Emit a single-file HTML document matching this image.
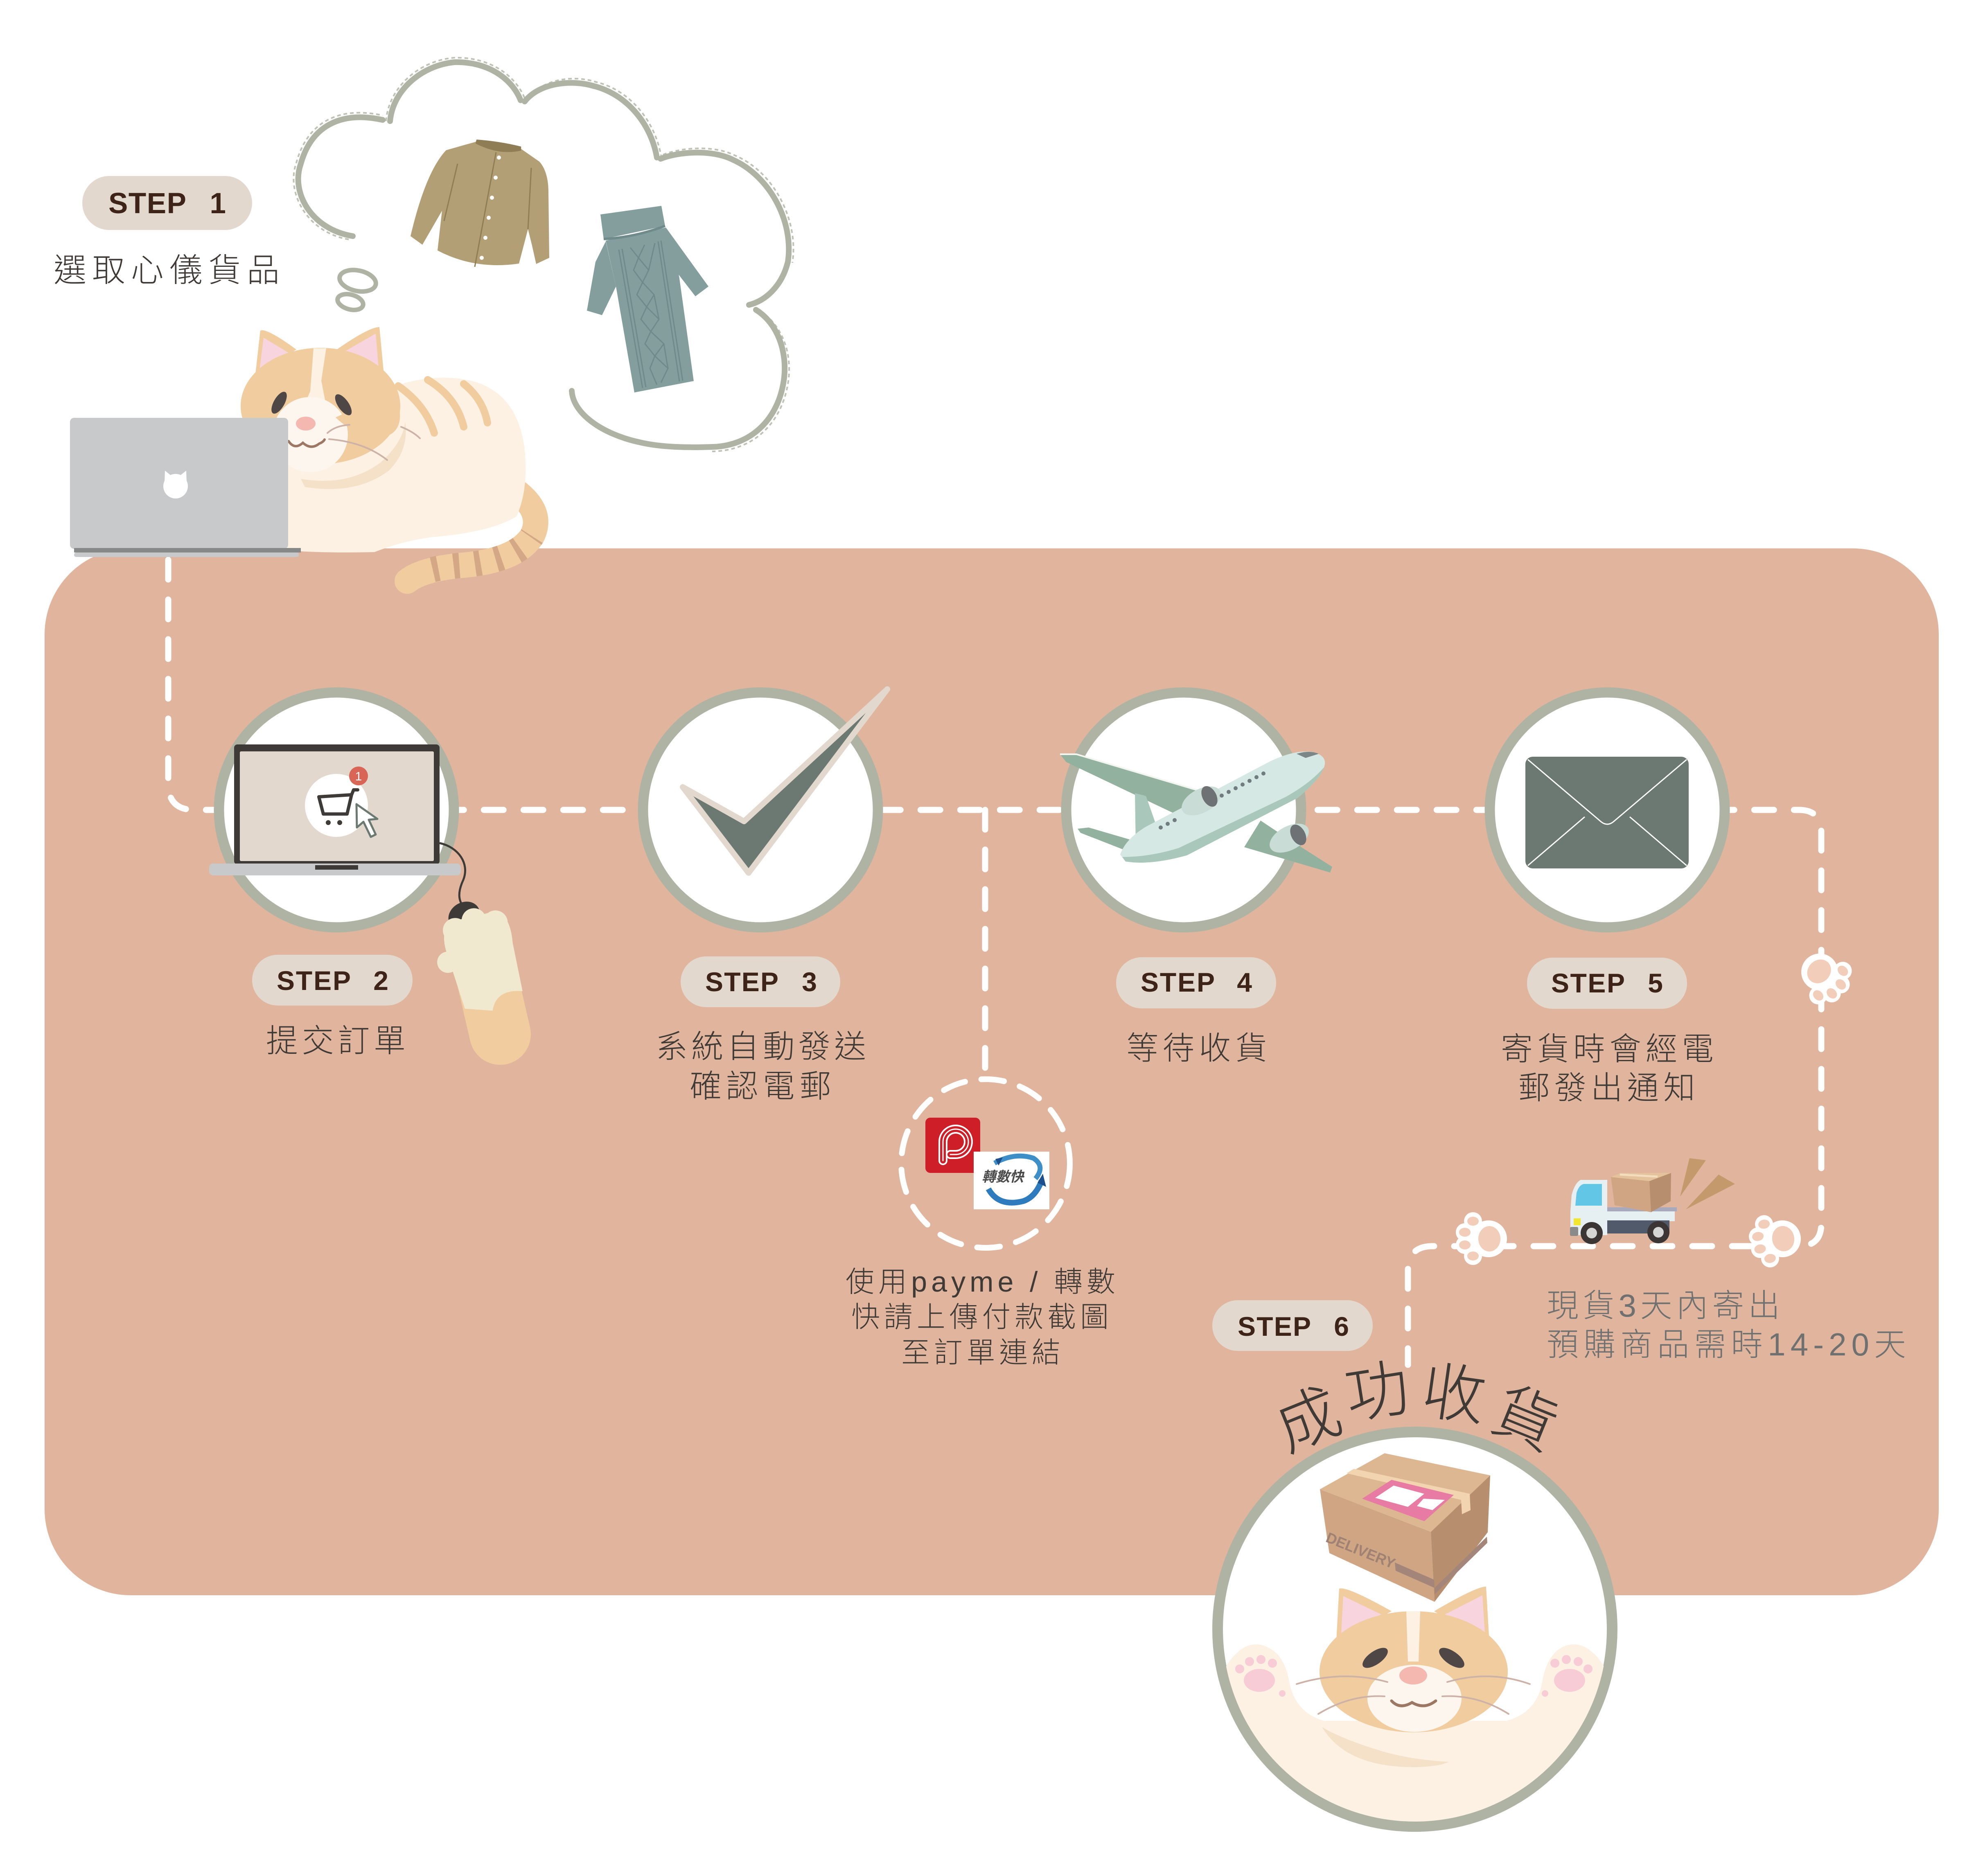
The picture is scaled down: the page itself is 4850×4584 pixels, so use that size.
<!DOCTYPE html>
<html><head><meta charset="utf-8"><style>
html,body{margin:0;padding:0;background:#fff}
svg{display:block}
.cj{font-family:"Liberation Sans","Noto Sans CJK TC","Noto Sans CJK SC",sans-serif;font-weight:300;fill:#3F3A36}
.st{font-family:"Liberation Sans",sans-serif;font-weight:bold;fill:#3E2418}
</style></head><body>
<svg width="4850" height="4584" viewBox="0 0 4850 4584" xmlns="http://www.w3.org/2000/svg">
<defs>
<g id="paw">
  <circle cx="0" cy="0" r="45" fill="#fff"/>
  <circle cx="-42" cy="-38" r="22" fill="#fff"/>
  <circle cx="-15" cy="-58" r="22" fill="#fff"/>
  <circle cx="16" cy="-58" r="22" fill="#fff"/>
  <circle cx="43" cy="-38" r="22" fill="#fff"/>
  <ellipse cx="0" cy="2" rx="31" ry="27" fill="#F2CDB9"/>
  <ellipse cx="-42" cy="-38" rx="11" ry="14" fill="#F2CDB9"/>
  <ellipse cx="-15" cy="-58" rx="11" ry="14" fill="#F2CDB9"/>
  <ellipse cx="16" cy="-58" rx="11" ry="14" fill="#F2CDB9"/>
  <ellipse cx="43" cy="-38" rx="11" ry="14" fill="#F2CDB9"/>
</g>
<clipPath id="bigc"><circle cx="3457" cy="3981" r="470"/></clipPath>
</defs>

<!-- main panel -->
<rect x="109" y="1340" width="4628" height="2558" rx="210" fill="#E1B59D"/>

<!-- thought bubble -->
<g fill="none" stroke="#AFB3A3" stroke-width="14" stroke-linecap="round">
<path d="M862 577 C760 560 710 470 735 400 C760 310 830 270 935 293"/>
<path d="M953 296 C960 220 1030 160 1110 152 C1190 150 1250 190 1272 245"/>
<path d="M1282 248 C1320 200 1400 195 1450 210 C1530 230 1590 300 1605 385"/>
<path d="M1614 388 C1660 370 1740 365 1790 390 C1880 430 1940 540 1925 640 C1910 700 1870 735 1830 745"/>
<path d="M1847 757 C1900 790 1925 860 1915 930 C1900 1030 1830 1090 1740 1092 C1660 1095 1600 1090 1560 1080 C1470 1060 1400 1010 1397 955"/>
<ellipse cx="874" cy="686" rx="45" ry="25" transform="rotate(12 874 686)" stroke-width="11"/>
<ellipse cx="856" cy="738" rx="32" ry="18" transform="rotate(15 856 738)" stroke-width="11"/>
</g>
<g fill="none" stroke="#AFB3A3" stroke-width="4" stroke-dasharray="9 7" opacity="0.8">
<path d="M852 585 C750 568 698 470 724 398 C750 300 826 258 935 282"/>
<path d="M943 296 C950 212 1025 148 1110 141 C1195 139 1258 182 1282 240"/>
<path d="M1290 240 C1330 190 1405 184 1455 200 C1540 220 1600 296 1615 380"/>
<path d="M1620 378 C1665 360 1745 354 1796 380 C1892 420 1952 540 1936 642"/>
<path d="M1858 760 C1910 795 1936 860 1926 932 C1910 1040 1835 1102 1740 1103"/>
</g>

<!-- cardigan -->
<path d="M1090 367 L1164 346 L1272 363 L1318 395 Q1340 420 1340 470 L1342 630 L1310 645 L1300 600 L1290 560 L1268 644 Q1160 660 1069 612 L1080 515 L1032 598 L1003 577 Q1040 420 1090 367 Z" fill="#B39F75"/>
<path d="M1164 346 Q1220 375 1272 363 Q1220 350 1164 346 Z" fill="#8F7D56" stroke="#8F7D56" stroke-width="10"/>
<path d="M1212 372 L1160 652" stroke="#8F7D56" stroke-width="3"/>
<path d="M1118 400 L1085 540" stroke="#8F7D56" stroke-width="3"/>
<path d="M1298 410 L1290 560" stroke="#8F7D56" stroke-width="3"/>
<g fill="#fff"><circle cx="1219" cy="385" r="5"/><circle cx="1211" cy="434" r="5"/><circle cx="1202" cy="483" r="5"/><circle cx="1194" cy="532" r="5"/><circle cx="1186" cy="581" r="5"/><circle cx="1177" cy="630" r="5"/></g>

<!-- sweater dress -->
<path d="M1480 588 L1627 556 L1645 600 L1660 680 L1695 931 L1550 959 L1505 700 Z" fill="#849D9D"/>
<path d="M1480 590 L1505 700 L1471 770 L1434 759 L1455 640 Z" fill="#849D9D"/>
<path d="M1627 556 L1731 700 L1699 724 L1645 654 Z" fill="#849D9D"/>
<path d="M1467 524 L1616 503 L1625 552 L1475 584 Z" fill="#849D9D"/>
<path d="M1475 584 Q1550 580 1625 552" stroke="#6F8A8A" stroke-width="6" fill="none"/>
<g stroke="#6F8A8A" stroke-width="3" fill="none">
<path d="M1512 610 L1570 948"/><path d="M1520 608 L1578 946"/>
<path d="M1615 588 L1668 930"/><path d="M1608 590 L1660 932"/>
<path d="M1540 605 L1560 630 L1548 660 L1570 690 L1556 720 L1580 750 L1566 780 L1590 810 L1576 840 L1600 870 L1588 900 L1605 940"/>
<path d="M1575 598 L1560 630 L1585 660 L1570 690 L1598 720 L1580 750 L1610 780 L1590 810 L1622 840 L1600 870 L1632 900 L1615 935"/>
<path d="M1600 594 L1585 660 M1598 720 L1610 780 M1622 840 L1632 900"/>
</g>

<!-- dashed path -->
<g fill="none" stroke="#fff" stroke-width="15" stroke-linecap="round" stroke-dasharray="48 49">
<path d="M411 1368 V1915 Q411 1979 475 1979 H4395 Q4450 1979 4450 2034 V2990 Q4450 3045 4395 3045 H3500 Q3440 3045 3440 3105 V3335"/>
<path d="M2407 1979 V2613"/>
</g>
<circle cx="2408" cy="2843" r="206" fill="none" stroke="#fff" stroke-width="14" stroke-linecap="round" stroke-dasharray="56 40"/>

<!-- top-left cat -->
<path d="M1230 1180 Q1335 1240 1300 1310 Q1260 1372 1120 1382 Q1030 1392 995 1420" fill="none" stroke="#F0CC9F" stroke-width="62" stroke-linecap="round"/>
<path d="M700 1100 L700 1345 Q800 1352 915 1349 Q990 1320 1060 1312 Q1200 1300 1262 1262 Q1290 1200 1283 1110 Q1270 960 1150 930 Q1060 910 960 945 L800 1000 Z" fill="#FCF1E3"/>
<path d="M1300 1310 Q1260 1372 1120 1382 Q1060 1388 1030 1400" fill="none" stroke="#D4A886" stroke-width="62" stroke-dasharray="14 38" stroke-dashoffset="10"/>
<g stroke="#F0CC9F" stroke-width="18" stroke-linecap="round" fill="none">
<path d="M973 943 Q1040 990 1061 1058"/><path d="M1045 928 Q1115 970 1133 1043"/><path d="M1133 938 Q1180 975 1191 1033"/>
</g>
<path d="M735 1170 Q850 1190 930 1130 Q985 1080 990 1030 Q1000 1100 950 1150 Q870 1210 745 1190 Z" fill="#F5E1C8"/>
<path d="M624 915 L636 808 Q650 800 724 854 Z" fill="#F0CC9F"/>
<path d="M634 905 L644 825 L705 862 Z" fill="#F7D4DE"/>
<path d="M823 854 Q900 800 927 799 L938 915 Z" fill="#F0CC9F"/>
<path d="M840 860 L918 815 L925 900 Z" fill="#F7D4DE"/>
<ellipse cx="783" cy="992" rx="195" ry="142" fill="#F0CC9F"/>
<path d="M766 851 L797 851 L785 930 L800 1007 L755 1033 L732 1017 L758 956 Z" fill="#FCF1E3"/>
<circle cx="758" cy="1062" r="92" fill="#FDF6EE"/>
<path d="M976 1000 Q985 1060 930 1070 Q860 1060 820 1020 Q860 1000 920 990 Z" fill="#F0CC9F"/>
<ellipse cx="682" cy="984" rx="13" ry="30" transform="rotate(30 682 984)" fill="#4F4746"/>
<ellipse cx="839" cy="989" rx="13" ry="30" transform="rotate(-35 839 989)" fill="#4F4746"/>
<ellipse cx="747" cy="1035" rx="24" ry="17" fill="#F5B8B0"/>
<path d="M705 1078 Q720 1100 740 1082 Q760 1100 780 1084 Q790 1080 793 1074" fill="none" stroke="#9C7864" stroke-width="6" stroke-linecap="round"/>
<g stroke="#CDB2A8" stroke-width="4" fill="none" stroke-linecap="round">
<path d="M800 1058 Q820 1040 854 1038"/><path d="M804 1073 Q890 1080 946 1124"/><path d="M980 1043 Q1010 1055 1026 1071"/>
</g>
<!-- laptop -->
<rect x="171" y="1021" width="533" height="320" rx="10" fill="#C8C9CB"/>
<ellipse cx="429" cy="1188" rx="30" ry="30" fill="#fff"/>
<path d="M402 1180 L403 1150 L418 1162 L440 1162 L455 1150 L456 1180 Z" fill="#fff"/>
<rect x="181" y="1339" width="554" height="11" fill="#878888"/>
<rect x="181" y="1350" width="549" height="11" rx="5" fill="#C8C9CB"/>

<!-- STEP 1 -->
<rect x="201" y="430" width="415" height="132" rx="66" fill="#E2D8CD"/>
<text class="st" x="265" y="521" font-size="71" textLength="190" lengthAdjust="spacing">STEP</text>
<text class="st" x="552" y="521" font-size="71" text-anchor="end">1</text>
<text class="cj" x="131" y="688" font-size="80" textLength="552" lengthAdjust="spacing">選取心儀貨品</text>

<!-- circles -->
<g fill="#fff" stroke="#AFB3A3" stroke-width="25">
<circle cx="822" cy="1979" r="287"/>
<circle cx="1858" cy="1979" r="287"/>
<circle cx="2892" cy="1979" r="287"/>
<circle cx="3927" cy="1979" r="287"/>
</g>

<!-- step2 laptop -->
<rect x="572" y="1819" width="502" height="293" rx="8" fill="#3D3A37"/>
<rect x="586" y="1836" width="474" height="268" rx="3" fill="#E2D8CE"/>
<rect x="511" y="2110" width="615" height="29" rx="10" fill="#C8C9CB"/>
<rect x="770" y="2114" width="105" height="11" fill="#3D3A37"/>
<circle cx="822" cy="1968" r="77" fill="#fff"/>
<g fill="none" stroke="#3D3A37" stroke-width="8" stroke-linejoin="round" stroke-linecap="round">
<path d="M779 1947 L859 1942 L848 1989 L790 1989 Z"/>
<path d="M859 1942 L864 1930 L874 1930"/>
</g>
<circle cx="802" cy="2010" r="6" fill="#3D3A37"/><circle cx="830" cy="2010" r="6" fill="#3D3A37"/>
<path d="M871 1965 L872 2022 L888 2008 L906 2045 L918 2039 L901 2003 L922 2001 Z" fill="#fff" stroke="#6C7872" stroke-width="5" stroke-linejoin="round"/>
<circle cx="876" cy="1896" r="23" fill="#D96557"/>
<text x="876" y="1907" font-family="Liberation Sans,sans-serif" font-size="30" fill="#fff" text-anchor="middle">1</text>
<path d="M1074 2060 C1120 2070 1148 2110 1132 2150 C1118 2180 1120 2200 1132 2215" fill="none" stroke="#3D3A37" stroke-width="5"/>
<ellipse cx="1134" cy="2238" rx="40" ry="33" transform="rotate(-30 1134 2238)" fill="#3D3A37"/>
<g transform="rotate(-13 1195 2410)">
<rect x="1120" y="2235" width="150" height="370" rx="75" fill="#F0CC9F"/>
<path d="M1112 2300 Q1110 2240 1150 2235 L1250 2235 Q1285 2250 1275 2320 L1272 2440 Q1210 2420 1190 2470 L1125 2450 Z" fill="#F1E9CF"/>
<circle cx="1145" cy="2258" r="30" fill="#F1E9CF"/><circle cx="1195" cy="2245" r="30" fill="#F1E9CF"/><circle cx="1245" cy="2262" r="30" fill="#F1E9CF"/>
<circle cx="1110" cy="2330" r="26" fill="#F1E9CF"/>
</g>

<!-- checkmark -->
<path d="M1668 1923 L1818 2007 L2168 1684 L1829 2133 Z" fill="#6C7872" stroke="#E2D8CE" stroke-width="14" stroke-linejoin="round"/>

<!-- plane -->
<path d="M2590 1843 L2630 1843 L3000 1955 L2920 2012 L2605 1862 Z" fill="#93B19F"/>
<path d="M2590 1843 L2630 1843 L2990 1950" fill="none" stroke="#F2F5F0" stroke-width="4"/>
<path d="M2633 2025 L2660 2022 L2790 2060 L2750 2078 L2640 2035 Z" fill="#93B19F"/>
<path d="M2773 1938 L2800 1945 L2835 2045 L2775 2065 Z" fill="#A9C7BA"/>
<path d="M2737 2088 Q2750 2050 2800 2020 L3100 1862 Q3165 1830 3210 1838 Q3245 1848 3235 1875 Q3225 1905 3170 1950 L2900 2090 Q2810 2115 2750 2105 Z" fill="#D6E8E3"/>
<path d="M2750 2105 Q2810 2115 2900 2090 L3170 1950 Q3225 1905 3235 1875 Q3200 1915 3140 1948 L2880 2072 Q2810 2094 2742 2094 Z" fill="#A9C7BA"/>
<path d="M3168 1842 Q3200 1832 3222 1842 L3190 1852 Z" fill="#7C8688"/>
<ellipse cx="2935" cy="1957" rx="52" ry="29" transform="rotate(-28 2935 1957)" fill="#C9DDD6"/>
<ellipse cx="2955" cy="1946" rx="17" ry="27" transform="rotate(-28 2955 1946)" fill="#6E7274"/>
<g fill="#707C80">
<circle cx="2836" cy="2022" r="5"/><circle cx="2853" cy="2013" r="5"/><circle cx="2870" cy="2004" r="5"/>
<circle cx="2985" cy="1944" r="5"/><circle cx="3002" cy="1935" r="5"/><circle cx="3019" cy="1926" r="5"/><circle cx="3036" cy="1917" r="5"/><circle cx="3053" cy="1908" r="5"/><circle cx="3070" cy="1899" r="5"/><circle cx="3087" cy="1890" r="5"/>
</g>
<path d="M3080 2005 L3140 2045 L3255 2118 L3250 2132 L3040 2070 Z" fill="#93B19F"/>
<ellipse cx="3150" cy="2048" rx="52" ry="29" transform="rotate(-28 3150 2048)" fill="#C9DDD6"/>
<ellipse cx="3172" cy="2040" rx="17" ry="27" transform="rotate(-28 3172 2040)" fill="#6E7274"/>

<!-- envelope -->
<rect x="3727" y="1849" width="399" height="273" rx="18" fill="#6C7872"/>
<g fill="none" stroke="#fff" stroke-width="3">
<path d="M3733 1856 L3912 2008 Q3927 2020 3942 2008 L4121 1856"/>
<path d="M3733 2115 L3872 1996"/><path d="M4121 2115 L3982 1996"/>
</g>

<!-- pills -->
<g fill="#E2D8CD">
<rect x="616" y="2333" width="392" height="124" rx="62"/>
<rect x="1663" y="2337" width="390" height="124" rx="62"/>
<rect x="2727" y="2339" width="391" height="125" rx="62"/>
<rect x="3731" y="2340" width="391" height="125" rx="62"/>
<rect x="2962" y="3177" width="392" height="124" rx="62"/>
</g>
<g font-size="66">
<text class="st" x="676" y="2419" textLength="181" lengthAdjust="spacing">STEP</text><text class="st" x="949" y="2419" text-anchor="end">2</text>
<text class="st" x="1723" y="2422" textLength="179" lengthAdjust="spacing">STEP</text><text class="st" x="1996" y="2422" text-anchor="end">3</text>
<text class="st" x="2787" y="2423" textLength="181" lengthAdjust="spacing">STEP</text><text class="st" x="3059" y="2423" text-anchor="end">4</text>
<text class="st" x="3790" y="2425" textLength="180" lengthAdjust="spacing">STEP</text><text class="st" x="4063" y="2425" text-anchor="end">5</text>
<text class="st" x="3024" y="3264" textLength="179" lengthAdjust="spacing">STEP</text><text class="st" x="3296" y="3264" text-anchor="end">6</text>
</g>

<!-- labels -->
<g font-size="78">
<text class="cj" x="650" y="2570" textLength="341" lengthAdjust="spacing">提交訂單</text>
<text class="cj" x="1602" y="2584" textLength="514" lengthAdjust="spacing">系統自動發送</text>
<text class="cj" x="1685" y="2681" textLength="346" lengthAdjust="spacing">確認電郵</text>
<text class="cj" x="2752" y="2588" textLength="344" lengthAdjust="spacing">等待收貨</text>
<text class="cj" x="3667" y="2590" textLength="520" lengthAdjust="spacing">寄貨時會經電</text>
<text class="cj" x="3709" y="2685" textLength="433" lengthAdjust="spacing">郵發出通知</text>
</g>
<g font-size="70">
<text class="cj" x="2066" y="3156" textLength="659" lengthAdjust="spacing">使用payme / 轉數</text>
<text class="cj" x="2080" y="3242" textLength="629" lengthAdjust="spacing">快請上傳付款截圖</text>
<text class="cj" x="2202" y="3329" textLength="389" lengthAdjust="spacing">至訂單連結</text>
</g>
<g font-size="78">
<text class="cj" style="fill:#6F7070" x="3779" y="3217" textLength="570" lengthAdjust="spacing">現貨3天內寄出</text>
<text class="cj" style="fill:#6F7070" x="3779" y="3312" textLength="878" lengthAdjust="spacing">預購商品需時14-20天</text>
</g>

<!-- payment icons -->
<rect x="2261" y="2731" width="134" height="135" rx="12" fill="#CE1F28"/>
<path d="M2304 2836 L2304 2790 A31 31 0 1 1 2335 2821 L2322 2821" fill="none" stroke="#fff" stroke-width="22" stroke-linecap="round" stroke-linejoin="round"/>
<path d="M2304 2836 L2304 2790 A31 31 0 1 1 2335 2821 L2322 2821" fill="none" stroke="#CE1F28" stroke-width="14" stroke-linecap="round" stroke-linejoin="round"/>
<path d="M2304 2836 L2304 2790 A31 31 0 1 1 2335 2821 L2322 2821" fill="none" stroke="#fff" stroke-width="3" stroke-linecap="round"/>
<rect x="2379" y="2814" width="185" height="141" fill="#fff"/>
<path d="M2430 2842 Q2480 2815 2525 2830 Q2555 2850 2530 2880" fill="none" stroke="#3E8FC8" stroke-width="12"/>
<path d="M2432 2832 L2450 2828 L2440 2848 Z" fill="#1C4F8C"/>
<path d="M2415 2905 Q2440 2950 2500 2935 Q2530 2925 2545 2885" fill="none" stroke="#2E7BBE" stroke-width="14"/>
<path d="M2535 2890 L2548 2868 L2556 2900 Z" fill="#1C4F8C"/>
<text x="2450" y="2887" font-family="'Noto Sans CJK TC',sans-serif" font-weight="bold" font-style="italic" font-size="34" fill="#4A4A4A" text-anchor="middle">轉數快</text>

<!-- truck -->
<path d="M4128 2830 L4168 2835 L4105 2924 Z" fill="#C49A6C"/>
<path d="M4199 2870 L4239 2893 L4119 2955 Z" fill="#C49A6C"/>
<path d="M3837 2960 L3840 2920 Q3848 2890 3862 2883 L3927 2883 L3927 3018 L3837 3018 Z" fill="#E6EFF1"/>
<path d="M3849 2946 L3852 2915 Q3858 2895 3870 2893 L3914 2893 L3914 2946 Z" fill="#62C6E6"/>
<rect x="3927" y="2958" width="165" height="26" fill="#E6EFF1"/>
<rect x="3927" y="2950" width="170" height="10" fill="#A9A9BE"/>
<rect x="3927" y="2982" width="152" height="32" fill="#515A6B"/>
<rect x="3845" y="2977" width="17" height="17" fill="#F2E62E"/>
<rect x="3836" y="2998" width="20" height="22" rx="3" fill="#8A8A8A"/>
<path d="M3936 2876 L4030 2886 L4034 2962 L3945 2945 Z" fill="#CFA584"/>
<path d="M4030 2886 L4083 2866 L4082 2935 L4034 2962 Z" fill="#B88F6E"/>
<path d="M3936 2876 L3960 2866 L4083 2866 L4030 2886 Z" fill="#E4C29B"/>
<path d="M3958 2870 L4050 2875" stroke="#F4DDBE" stroke-width="5"/>
<circle cx="3889" cy="3013" r="27" fill="#3B3536"/><circle cx="3889" cy="3013" r="13" fill="#D5D5D5"/>
<circle cx="4052" cy="3011" r="27" fill="#3B3536"/><circle cx="4052" cy="3011" r="13" fill="#D5D5D5"/>

<!-- paws on path -->
<use href="#paw" transform="translate(4446 2375) rotate(135)"/>
<use href="#paw" transform="translate(3637 3027) rotate(-90)"/>
<use href="#paw" transform="translate(4355 3027) rotate(-100)"/>

<!-- 成功收貨 -->
<g font-size="155">
<text class="cj" x="3195" y="3466" dy="0.37em" text-anchor="middle" transform="rotate(-22 3195 3466)">成</text>
<text class="cj" x="3364" y="3397" dy="0.37em" text-anchor="middle" transform="rotate(-9 3364 3397)">功</text>
<text class="cj" x="3553" y="3403" dy="0.37em" text-anchor="middle" transform="rotate(8 3553 3403)">收</text>
<text class="cj" x="3729" y="3463" dy="0.37em" text-anchor="middle" transform="rotate(22 3729 3463)">貨</text>
</g>

<!-- big circle -->
<circle cx="3457" cy="3981" r="482" fill="#fff" stroke="#AFB3A3" stroke-width="26"/>
<g clip-path="url(#bigc)">
<path d="M2960 4160 Q3000 4020 3069 4020 Q3135 4022 3150 4110 Q3165 4185 3235 4205 L3680 4205 Q3755 4185 3768 4110 Q3783 4022 3845 4020 Q3915 4020 3955 4160 L3960 4520 L2950 4520 Z" fill="#FCF1E3"/>
<ellipse cx="3069" cy="4090" rx="66" ry="72" fill="#FCF1E3"/>
<ellipse cx="3845" cy="4090" rx="66" ry="72" fill="#FCF1E3"/>
<path d="M3230 4220 Q3290 4320 3460 4318 Q3520 4316 3540 4305 Q3450 4300 3380 4280 Q3280 4250 3230 4220 Z" fill="#F5E1C8"/>
<path d="M3265 4010 L3272 3882 Q3290 3875 3400 3937 Z" fill="#F0CC9F"/>
<path d="M3277 3990 L3282 3900 L3375 3945 Z" fill="#F7D4DE"/>
<path d="M3504 3937 Q3610 3875 3631 3877 L3639 4014 Z" fill="#F0CC9F"/>
<path d="M3530 3945 L3622 3898 L3628 3990 Z" fill="#F7D4DE"/>
<ellipse cx="3454" cy="4085" rx="230" ry="148" fill="#F0CC9F"/>
<path d="M3436 3937 L3470 3937 L3466 4060 L3440 4060 Z" fill="#FCF1E3"/>
<ellipse cx="3456" cy="4150" rx="115" ry="82" fill="#FDF6EE"/>
<ellipse cx="3360" cy="4051" rx="36" ry="16" transform="rotate(-35 3360 4051)" fill="#4F4746"/>
<ellipse cx="3547" cy="4051" rx="36" ry="16" transform="rotate(35 3547 4051)" fill="#4F4746"/>
<ellipse cx="3453" cy="4094" rx="34" ry="22" fill="#F5B8B0"/>
<path d="M3400 4156 Q3420 4178 3450 4160 Q3480 4178 3508 4156" fill="none" stroke="#9C7864" stroke-width="7" stroke-linecap="round"/>
<g stroke="#CDB2A8" stroke-width="4" fill="none" stroke-linecap="round">
<path d="M3168 4115 Q3280 4080 3390 4110"/><path d="M3221 4188 Q3300 4140 3383 4145"/>
<path d="M3536 4110 Q3640 4080 3738 4115"/><path d="M3524 4145 Q3610 4140 3686 4188"/>
</g>
<g fill="#F7CCD7">
<ellipse cx="3077" cy="4106" rx="38" ry="28"/><circle cx="3029" cy="4078" r="11"/><circle cx="3053" cy="4060" r="11"/><circle cx="3081" cy="4055" r="11"/><circle cx="3109" cy="4064" r="11"/><circle cx="3133" cy="4138" r="8"/>
<ellipse cx="3835" cy="4106" rx="38" ry="28"/><circle cx="3799" cy="4064" r="11"/><circle cx="3827" cy="4055" r="11"/><circle cx="3856" cy="4060" r="11"/><circle cx="3880" cy="4078" r="11"/><circle cx="3775" cy="4138" r="8"/>
</g>
<!-- box -->
<path d="M3225 3639 L3496 3743 L3505 3914 L3248 3795 Z" fill="#CFA584"/>
<path d="M3496 3743 L3641 3605 L3635 3744 L3505 3914 Z" fill="#B88F6E"/>
<path d="M3225 3639 L3383 3551 L3641 3605 L3496 3743 Z" fill="#DDB791"/>
<path d="M3308 3589 L3591 3650 L3593 3690 L3572 3700 L3570 3665 L3290 3600 Z" fill="#F2D5B0"/>
<path d="M3328 3662 L3400 3616 L3552 3653 L3480 3717 Z" fill="#E77BA3"/>
<path d="M3360 3660 L3405 3630 L3480 3650 L3440 3682 Z" fill="#fff"/>
<path d="M3478 3662 L3530 3665 L3500 3690 L3462 3680 Z" fill="#fff"/>
<path d="M3408 3818 L3504 3860 L3505 3880 L3410 3838 Z" fill="#A3857A"/>
<path d="M3505 3880 L3633 3755 L3634 3770 L3506 3895 Z" fill="#A3857A"/>
<text x="3320" y="3800" transform="rotate(22 3320 3800)" font-family="Liberation Sans,sans-serif" font-weight="bold" font-size="36" fill="#A08275" text-anchor="middle">DELIVERY</text>
</g>
</svg>
</body></html>
